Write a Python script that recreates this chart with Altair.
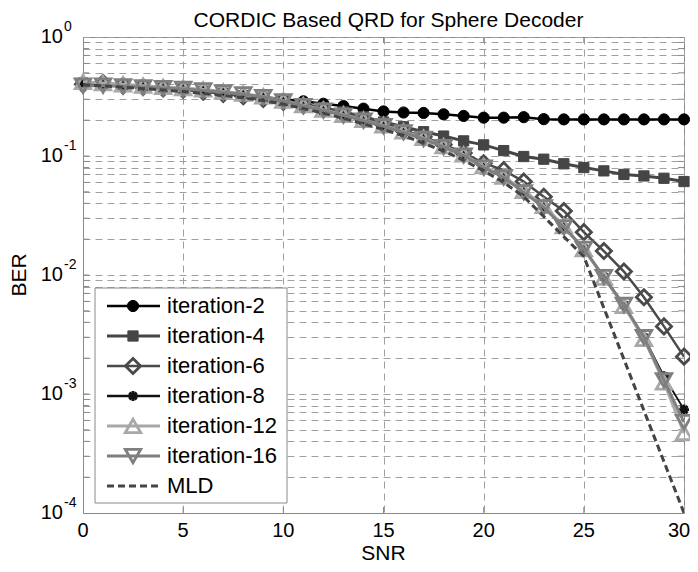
import altair as alt
import pandas as pd

# ---------------- data ----------------
snr = list(range(31))

ber_it2 = [0.41, 0.40, 0.39, 0.38, 0.372, 0.363, 0.352, 0.34, 0.327, 0.313, 0.30,
           0.288, 0.275, 0.263, 0.25, 0.237, 0.232, 0.23, 0.224, 0.217, 0.21,
           0.21, 0.212, 0.204, 0.203, 0.203, 0.203, 0.203, 0.203, 0.203, 0.203]
ber_it4 = [0.41, 0.40, 0.39, 0.38, 0.372, 0.362, 0.35, 0.337, 0.322, 0.306, 0.29,
           0.272, 0.254, 0.235, 0.214, 0.193, 0.176, 0.16, 0.147, 0.134, 0.124,
           0.111, 0.099, 0.094, 0.086, 0.080, 0.075, 0.070, 0.068, 0.065, 0.061]
ber_it6 = [0.40, 0.41, 0.39, 0.38, 0.37, 0.36, 0.347, 0.333, 0.318, 0.302, 0.285,
           0.266, 0.246, 0.225, 0.203, 0.183, 0.164, 0.145, 0.125, 0.106, 0.087,
           0.076, 0.061, 0.0455, 0.0345, 0.0229, 0.0159, 0.0107, 0.0065, 0.0037, 0.00206]
ber_it8 = [0.41, 0.40, 0.395, 0.385, 0.378, 0.37, 0.36, 0.345, 0.332, 0.315, 0.29,
           0.265, 0.243, 0.221, 0.20, 0.18, 0.16, 0.141, 0.12, 0.102, 0.081,
           0.066, 0.05, 0.0375, 0.0255, 0.0168, 0.0097, 0.0056, 0.0030, 0.00141, 0.00074]
ber_it12 = [0.42, 0.41, 0.40, 0.39, 0.38, 0.372, 0.362, 0.348, 0.334, 0.317, 0.292,
            0.267, 0.245, 0.222, 0.201, 0.181, 0.161, 0.142, 0.121, 0.103, 0.082,
            0.067, 0.051, 0.038, 0.0258, 0.0165, 0.0095, 0.0055, 0.0029, 0.00125, 0.00047]
ber_it16 = [0.39, 0.39, 0.385, 0.378, 0.372, 0.366, 0.356, 0.343, 0.33, 0.313, 0.288,
            0.263, 0.241, 0.219, 0.198, 0.178, 0.158, 0.139, 0.119, 0.101, 0.080,
            0.066, 0.0495, 0.037, 0.0252, 0.0166, 0.0096, 0.0056, 0.0030, 0.0013, 0.00058]
ber_mld = [0.395, 0.388, 0.378, 0.368, 0.358, 0.348, 0.336, 0.322, 0.308, 0.292, 0.272,
           0.25, 0.229, 0.207, 0.186, 0.167, 0.148, 0.128, 0.11, 0.092, 0.075,
           0.06, 0.0455, 0.031, 0.021, 0.0143, 0.00528, 0.00196, 0.000726, 0.00027, 0.0001]

series_names = ["iteration-2", "iteration-4", "iteration-6", "iteration-8",
                "iteration-12", "iteration-16", "MLD"]
series_values = [ber_it2, ber_it4, ber_it6, ber_it8, ber_it12, ber_it16, ber_mld]

title_text = "CORDIC Based QRD for Sphere Decoder"
x_title = "SNR"
y_title = "BER"
x_ticks = [0, 5, 10, 15, 20, 25, 30]
y_decades = [1e-4, 1e-3, 1e-2, 1e-1, 1]
y_exponents = ["-4", "-3", "-2", "-1", "0"]

# ---------------- styles ----------------
ASTERISK = "M-1,0L1,0M0,-1L0,1M-0.72,-0.72L0.72,0.72M-0.72,0.72L0.72,-0.72"
styles = {
    "iteration-2":  dict(color="#000000", shape="circle", filled=True, size=125, sw=2.5, msw=1),
    "iteration-4":  dict(color="#454545", shape="square", filled=True, size=105, sw=3, msw=1),
    "iteration-6":  dict(color="#4a4a4a", shape="diamond", filled=False, size=230, sw=2.5, msw=2.8),
    "iteration-8":  dict(color="#111111", shape=ASTERISK, filled=False, size=100, sw=1.8, msw=2.8),
    "iteration-12": dict(color="#a8a8a8", shape="triangle-up", filled=False, size=240, sw=3, msw=2.8),
    "iteration-16": dict(color="#7f7f7f", shape="triangle-down", filled=False, size=240, sw=3, msw=2.8),
    "MLD":          dict(color="#444444", shape=None, filled=False, size=0, sw=3, msw=0),
}

FONT = "Liberation Sans"
W, H = 601, 476
GRID = "#a0a0a0"
FRAME = "#8a8a8a"

minor = []
for d in [1e-4, 1e-3, 1e-2, 1e-1]:
    for k in range(2, 10):
        minor.append(round(d * k, 10))
y_grid_vals = sorted(y_decades + minor)

rows = []
for name, vals in zip(series_names, series_values):
    for s, b in zip(snr, vals):
        rows.append({"series": name, "snr": s, "ber": b})
df = pd.DataFrame(rows)

xscale = alt.Scale(domain=[0, 30], nice=False, zero=False)
yscale = alt.Scale(type="log", domain=[1e-4, 1], nice=False)

xenc = alt.X("snr:Q", scale=xscale,
             axis=alt.Axis(values=x_ticks, title=None, grid=True, gridDash=[7, 5],
                           gridColor=GRID, ticks=False, labels=False, domainColor=FRAME))
yenc = alt.Y("ber:Q", scale=yscale,
             axis=alt.Axis(values=y_grid_vals, title=None, grid=True, gridDash=[7, 5],
                           gridColor=GRID, ticks=False, labels=False, domainColor=FRAME))

layers = []
base = alt.Chart(df).mark_point(opacity=0).encode(x=xenc, y=yenc)
layers.append(base)

# inward ticks
xt = pd.DataFrame({"v": x_ticks[1:-1]})
layers.append(alt.Chart(xt).mark_rule(color=FRAME, strokeWidth=1).encode(
    x=alt.X("v:Q", scale=xscale), y=alt.value(H), y2=alt.value(H - 6)))
layers.append(alt.Chart(xt).mark_rule(color=FRAME, strokeWidth=1).encode(
    x=alt.X("v:Q", scale=xscale), y=alt.value(0), y2=alt.value(6)))
yt = pd.DataFrame({"v": [v for v in y_grid_vals if 1e-4 < v < 1]})
layers.append(alt.Chart(yt).mark_rule(color=FRAME, strokeWidth=1).encode(
    y=alt.Y("v:Q", scale=yscale), x=alt.value(0), x2=alt.value(6)))
layers.append(alt.Chart(yt).mark_rule(color=FRAME, strokeWidth=1).encode(
    y=alt.Y("v:Q", scale=yscale), x=alt.value(W), x2=alt.value(W - 6)))

# x tick labels (last one nudged inside the canvas)
xl_in = pd.DataFrame({"v": x_ticks[:-1]})
xl_end = pd.DataFrame({"v": x_ticks[-1:]})
layers.append(alt.Chart(xl_in).mark_text(align="center", baseline="middle", fontSize=20,
                                          font=FONT, color="#000").encode(
    x=alt.X("v:Q", scale=xscale), y=alt.value(H + 18), text="v:N"))
layers.append(alt.Chart(xl_end).mark_text(align="center", baseline="middle", fontSize=20,
                                           font=FONT, color="#000", dx=-5).encode(
    x=alt.X("v:Q", scale=xscale), y=alt.value(H + 18), text="v:N"))

# y tick labels with superscript exponents
ylab = pd.DataFrame({"v": y_decades, "e": y_exponents})
layers.append(alt.Chart(ylab).mark_text(align="right", baseline="middle", fontSize=20,
                                         font=FONT, color="#000").encode(
    y=alt.Y("v:Q", scale=yscale), x=alt.value(-20), text=alt.value("10")))
layers.append(alt.Chart(ylab).mark_text(align="left", baseline="middle", fontSize=14,
                                         font=FONT, color="#000", dy=-10).encode(
    y=alt.Y("v:Q", scale=yscale), x=alt.value(-19), text="e:N"))

# series
for name in series_names:
    st = styles[name]
    sub = alt.Chart(df).transform_filter(alt.datum.series == name)
    line_kw = dict(color=st["color"], strokeWidth=st["sw"], clip=True)
    if name == "MLD":
        line_kw["strokeDash"] = [7, 4]
    layers.append(sub.mark_line(**line_kw).encode(
        x=alt.X("snr:Q", scale=xscale), y=alt.Y("ber:Q", scale=yscale)))
    if st["shape"]:
        pk = dict(shape=st["shape"], size=st["size"], filled=st["filled"],
                  color=st["color"], strokeWidth=st["msw"], opacity=1)
        if st["filled"]:
            pk["fill"] = st["color"]
            pk["stroke"] = st["color"]
        layers.append(sub.mark_point(**pk).encode(
            x=alt.X("snr:Q", scale=xscale), y=alt.Y("ber:Q", scale=yscale)))

one = pd.DataFrame({"a": [0]})
# axis titles
layers.append(alt.Chart(one).mark_text(angle=270, fontSize=21, font=FONT, color="#000",
                                        baseline="middle", align="center").encode(
    x=alt.value(-63), y=alt.value(H / 2), text=alt.value(y_title)))
layers.append(alt.Chart(one).mark_text(fontSize=21, font=FONT, color="#000",
                                        baseline="middle", align="center").encode(
    x=alt.value(W / 2), y=alt.value(H + 41), text=alt.value(x_title)))
# chart title
layers.append(alt.Chart(one).mark_text(fontSize=21, font=FONT, color="#000",
                                        baseline="middle", align="center").encode(
    x=alt.value(W / 2 + 5), y=alt.value(-16), text=alt.value(title_text)))

# legend
LX0, LX1, LY0, LY1 = 12, 204, 251, 466
layers.append(alt.Chart(one).mark_rect(fill="white", stroke=FRAME, strokeWidth=1).encode(
    x=alt.value(LX0), x2=alt.value(LX1), y=alt.value(LY0), y2=alt.value(LY1)))
for i, name in enumerate(series_names):
    st = styles[name]
    yy = 269 + 30 * i
    rk = dict(color=st["color"], strokeWidth=st["sw"] if name != "iteration-8" else 2.5)
    if name == "MLD":
        rk["strokeDash"] = [7, 4]
    layers.append(alt.Chart(one).mark_rule(**rk).encode(
        x=alt.value(24), x2=alt.value(77), y=alt.value(yy)))
    if st["shape"]:
        pk = dict(shape=st["shape"], size=st["size"], filled=st["filled"],
                  color=st["color"], strokeWidth=st["msw"], opacity=1)
        if st["filled"]:
            pk["fill"] = st["color"]
            pk["stroke"] = st["color"]
        layers.append(alt.Chart(one).mark_point(**pk).encode(
            x=alt.value(50), y=alt.value(yy)))
    layers.append(alt.Chart(one).mark_text(align="left", baseline="middle", fontSize=22,
                                            font=FONT, color="#000").encode(
        x=alt.value(84), y=alt.value(yy), text=alt.value(name)))

chart = alt.layer(*layers).properties(
    width=W, height=H,
    autosize=alt.AutoSizeParams(type="none"),
    padding={"left": 75, "top": 29, "right": 6, "bottom": 51},
).configure(font=FONT).configure_view(stroke=FRAME, strokeWidth=1).configure_axis(
    labelFont=FONT, titleFont=FONT)

chart.save("out.html", embed_options={"renderer": "svg", "actions": False})
